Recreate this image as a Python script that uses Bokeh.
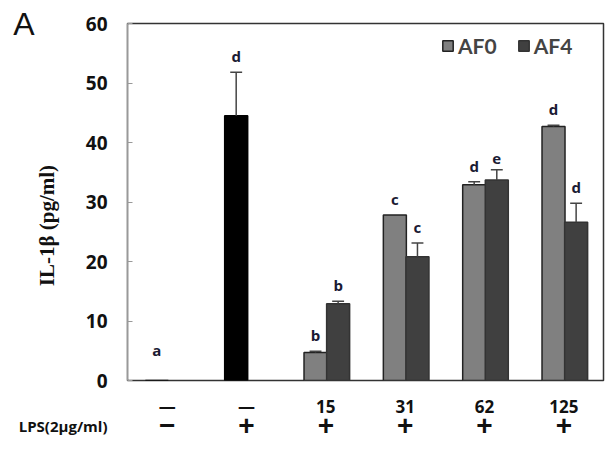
from bokeh.plotting import figure
from bokeh.layouts import column
from bokeh.models import (FactorRange, Range1d, ColumnDataSource, LinearAxis,
                          FixedTicker, CustomJSTickFormatter)
from bokeh.transform import dodge
from bokeh.core.properties import value
from bokeh.embed import file_html
from bokeh.resources import INLINE

# ---- data ----
groups = ["ctrl", "lps", "15", "31", "62", "125"]
row1_labels = ["\u2014", "\u2014", "15", "31", "62", "125"]
row2_labels = ["\u2212", "+", "+", "+", "+", "+"]
row2_title = "LPS(2\u03bcg/ml)"
panel_letter = "A"
y_title = "IL-1\u03b2 (pg/ml)"

# first-slot bars: control and LPS alone (black), AF0 for doses
lps_groups = ["ctrl", "lps"]
lps_vals = [0.0, 44.5]
lps_sd = [0.0, 7.3]
lps_letters = ["a", "d"]

dose_groups = ["15", "31", "62", "125"]
af0_vals = [4.7, 27.8, 32.9, 42.7]
af0_sd = [0.2, 0.0, 0.5, 0.2]
af0_letters = ["b", "c", "d", "d"]
af4_vals = [12.9, 20.8, 33.7, 26.6]
af4_sd = [0.4, 2.3, 1.7, 3.2]
af4_letters = ["b", "c", "e", "d"]

y_ticks = [0, 10, 20, 30, 40, 50, 60]

W_FIG = 605
H_MAIN, H_STRIP = 394, 47
xr = FactorRange(factors=groups)

# ---- main figure ----
p = figure(x_range=xr, y_range=Range1d(0, 60),
           width=W_FIG, height=H_MAIN, output_backend="svg", toolbar_location=None,
           min_border_left=127, min_border_right=2, min_border_top=23,
           min_border_bottom=H_MAIN - 380)
p.xgrid.visible = False
p.ygrid.visible = False
p.outline_line_color = "#333333"
p.outline_line_width = 1.5
p.xaxis.visible = False

OFF0, OFF1, W = -0.13, 0.155, 0.29
CAP = 0.075
GREY, DARK, BLACK = "#808080", "#404040", "#000000"
LETTER_FONT = value("Open Sans")


def series(gs, vals, sds, letters, off, fill, line, legend=None):
    tops = [v + s for v, s in zip(vals, sds)]
    ly = [max(t, 2.5) for t in tops]
    src = ColumnDataSource(dict(g=gs, v=vals, sd=sds, hi=tops, ly=ly, lab=letters))
    kw = {}
    if legend:
        kw["legend_label"] = legend
    r = p.vbar(x=dodge("g", off, range=xr), top="v", width=W, source=src,
               fill_color=fill, line_color=line, line_width=1.5, **kw)
    eg = [g for g, s in zip(gs, sds) if s > 0]
    ev = [v for v, s in zip(vals, sds) if s > 0]
    eh = [t for t, s in zip(tops, sds) if s > 0]
    esrc = ColumnDataSource(dict(g=eg, v=ev, hi=eh))
    p.segment(x0=dodge("g", off, range=xr), y0="v",
              x1=dodge("g", off, range=xr), y1="hi", source=esrc,
              line_color="#444444", line_width=1.5)
    p.segment(x0=dodge("g", off - CAP, range=xr), y0="hi",
              x1=dodge("g", off + CAP, range=xr), y1="hi", source=esrc,
              line_color="#444444", line_width=1.5)
    p.text(x=dodge("g", off, range=xr), y="ly", text="lab", source=src,
           text_align="center", text_baseline="bottom", y_offset=-6,
           text_font=LETTER_FONT, text_font_style="bold", text_font_size="15px",
           text_color="#1a1a33")
    return r


series(lps_groups, lps_vals, lps_sd, lps_letters, OFF0, BLACK, BLACK)
series(dose_groups, af0_vals, af0_sd, af0_letters, OFF0, GREY, "#222222", "AF0")
series(dose_groups, af4_vals, af4_sd, af4_letters, OFF1, DARK, "#333333", "AF4")

# ---- legend ----
leg = p.legend[0]
leg.orientation = "horizontal"
leg.location = (314, 322)
leg.border_line_color = None
leg.background_fill_alpha = 0
leg.label_text_font = "Lato"
leg.label_text_font_style = "bold"
leg.label_text_font_size = "21px"
leg.glyph_width = 13
leg.glyph_height = 13
leg.label_standoff = 4
leg.spacing = 20
leg.padding = 0
leg.margin = 0
leg.label_height = 20

# ---- y axis ----
ya = p.yaxis[0]
ya.ticker = FixedTicker(ticks=y_ticks)
ya.minor_tick_line_color = None
ya.major_tick_in = 5
ya.major_tick_out = 0
ya.axis_line_color = "#999999"
ya.major_tick_line_color = "#999999"
ya.major_label_text_font = "Open Sans"
ya.major_label_text_font_style = "bold"
ya.major_label_text_font_size = "19px"
ya.major_label_text_color = "#111111"
ya.major_label_standoff = 20
ya.axis_label = y_title + "\u00a0" * 9
ya.axis_label_text_font = "Liberation Serif"
ya.axis_label_text_font_style = "bold"
ya.axis_label_text_font_size = "21px"
ya.axis_label_text_color = "#111111"
ya.axis_label_standoff = 24

# panel letter as an outer left axis with a single tick at the top
p.extra_y_ranges = {"panel": Range1d(0, 1)}
pa = LinearAxis(y_range_name="panel", ticker=FixedTicker(ticks=[1]),
                formatter=CustomJSTickFormatter(code="return '%s'" % panel_letter),
                axis_line_color=None, major_tick_line_color=None,
                minor_tick_line_color=None, major_label_standoff=-9,
                major_label_text_font="Liberation Sans",
                major_label_text_font_size="32px",
                major_label_text_color="#111111")
p.add_layout(pa, "left")

# ---- bottom strip: treatment rows ----
s = figure(x_range=xr, y_range=Range1d(0, H_STRIP), width=W_FIG, height=H_STRIP,
           output_backend="svg", toolbar_location=None, x_axis_location=None,
           min_border_left=127, min_border_right=2, min_border_top=0,
           min_border_bottom=0)
s.outline_line_color = None
s.xgrid.visible = False
s.ygrid.visible = False

ROW1_Y, ROW2_Y = 35, 16
src1 = ColumnDataSource(dict(g=groups, t=row1_labels, y=[ROW1_Y] * len(groups)))
src2 = ColumnDataSource(dict(g=groups, t=row2_labels, y=[ROW2_Y] * len(groups)))
s.text(x="g", y="y", text="t", source=src1, text_align="center",
       text_baseline="middle", text_font=value("Open Sans"),
       text_font_style="bold", text_font_size="17px", text_color="#111111")
s.text(x="g", y="y", text="t", source=src2, text_align="center",
       text_baseline="middle", text_font=value("Liberation Sans"),
       text_font_style="bold", text_font_size="28px", text_color="#111111")

sa = s.yaxis[0]
sa.ticker = FixedTicker(ticks=[ROW2_Y])
sa.formatter = CustomJSTickFormatter(code="return '%s'" % row2_title)
sa.axis_line_color = None
sa.major_tick_line_color = None
sa.minor_tick_line_color = None
sa.major_label_standoff = 14
sa.major_label_text_font = "Open Sans"
sa.major_label_text_font_style = "bold"
sa.major_label_text_font_size = "15px"
sa.major_label_text_color = "#111111"

layout = column(p, s, spacing=0)
open("out.html", "w").write(file_html(layout, INLINE))
